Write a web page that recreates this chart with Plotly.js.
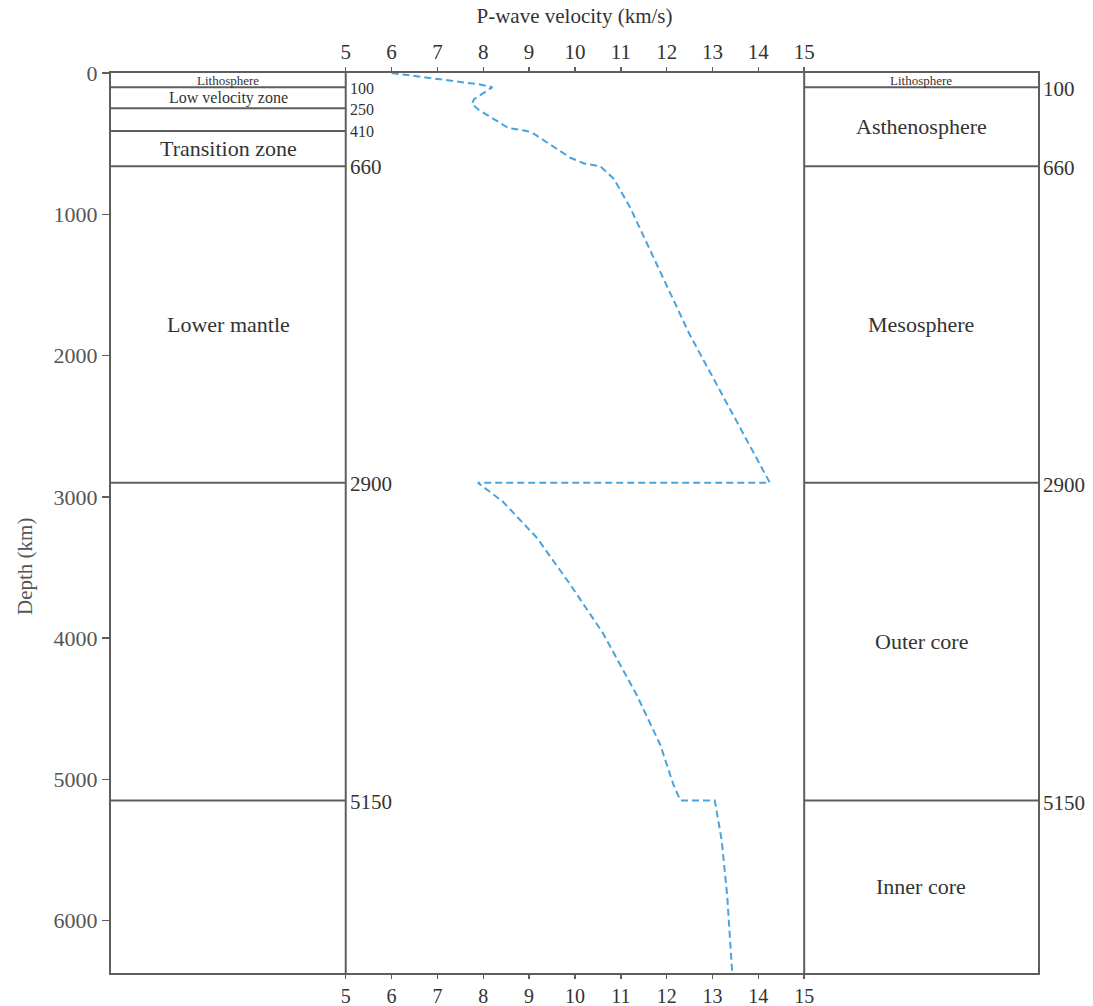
<!DOCTYPE html>
<html>
<head>
<meta charset="utf-8">
<script src="https://cdn.plot.ly/plotly-3.0.1.min.js"></script>
<style>html,body{margin:0;padding:0;background:#fff;}#chart{width:1093px;height:1006px;}</style>
</head>
<body>
<div id="chart"></div>
<script>
// ---- data ----
const velocityKmS = [6.0, 7.9, 8.2, 7.8, 7.75, 7.9, 8.55, 8.95, 9.1, 9.9, 10.2, 10.55, 10.85, 11.2, 12.5, 14.25,
                     7.88, 8.43, 9.17, 9.89, 10.61, 11.35, 11.86, 12.15, 12.3, 13.05, 13.2, 13.32, 13.43];
const depthKm     = [0, 80, 100, 185, 220, 260, 390, 410, 430, 600, 640, 660, 750, 950, 1850, 2900,
                     2900, 3035, 3290, 3618, 3965, 4405, 4755, 5040, 5150, 5150, 5430, 5820, 6371];

const leftBoundaries = [0, 100, 250, 410, 660, 2900, 5150, 6371];
const leftZones      = ['Lithosphere', 'Low velocity zone', '', 'Transition zone', 'Lower mantle', '', ''];
const leftLabels     = ['100', '250', '410', '660', '2900', '5150'];

const rightBoundaries = [0, 100, 660, 2900, 5150, 6371];
const rightZones      = ['Lithosphere', 'Asthenosphere', 'Mesosphere', 'Outer core', 'Inner core'];
const rightLabels     = ['100', '660', '2900', '5150'];

const velocityTicks = [5, 6, 7, 8, 9, 10, 11, 12, 13, 14, 15];
const depthTicks    = [0, 1000, 2000, 3000, 4000, 5000, 6000];

// ---- layout constants ----
const XMIN = -0.12, XMAX = 20.1, XL = 5, XR = 15;
const FONT = 'Liberation Serif, Times New Roman, serif';
const LINE = '#5e5e5e';
const TXT = '#333333';
const GREY = '#555555';
const FS = 22;
const maxDepth = leftBoundaries[leftBoundaries.length - 1];

function zoneFont(thickness) {
  if (thickness < 120) return 13;
  if (thickness < 200) return 16;
  return FS;
}
function boundaryFont(inner, i) {
  // spacing between neighbouring boundary labels
  const prev = i > 0 ? inner[i] - inner[i - 1] : Infinity;
  const next = i < inner.length - 1 ? inner[i + 1] - inner[i] : Infinity;
  return Math.min(prev, next) < 200 ? 16 : FS - 1;
}

const shapes = [];
const annotations = [];

// vertical separators
[XL, XR].forEach(xv => shapes.push({type: 'line', xref: 'x', yref: 'y', x0: xv, x1: xv, y0: 0, y1: maxDepth,
  line: {color: LINE, width: 2}}));

// left panel boundaries + labels
const leftInner = leftBoundaries.slice(1, -1);
leftInner.forEach((d, i) => {
  shapes.push({type: 'line', xref: 'x', yref: 'y', x0: XMIN, x1: XL, y0: d, y1: d, line: {color: LINE, width: 2}});
  annotations.push({xref: 'x', yref: 'y', x: XL, y: d, text: leftLabels[i], showarrow: false,
    xanchor: 'left', yanchor: 'middle', xshift: 2, yshift: -1,
    font: {family: FONT, size: boundaryFont(leftInner, i), color: TXT}});
});
leftZones.forEach((name, i) => {
  if (!name) return;
  annotations.push({xref: 'x', yref: 'y', x: (XMIN + XL) / 2, y: (leftBoundaries[i] + leftBoundaries[i + 1]) / 2,
    text: name, showarrow: false, xanchor: 'center', yanchor: 'middle',
    font: {family: FONT, size: zoneFont(leftBoundaries[i + 1] - leftBoundaries[i]), color: TXT}});
});

// right panel boundaries + labels
const rightInner = rightBoundaries.slice(1, -1);
rightInner.forEach((d, i) => {
  shapes.push({type: 'line', xref: 'x', yref: 'y', x0: XR, x1: XMAX, y0: d, y1: d, line: {color: LINE, width: 2}});
  annotations.push({xref: 'x', yref: 'y', x: XMAX, y: d, text: rightLabels[i], showarrow: false,
    xanchor: 'left', yanchor: 'middle', xshift: 3, yshift: -2,
    font: {family: FONT, size: boundaryFont(rightInner, i), color: TXT}});
});
rightZones.forEach((name, i) => {
  annotations.push({xref: 'x', yref: 'y', x: (XR + XMAX) / 2, y: (rightBoundaries[i] + rightBoundaries[i + 1]) / 2,
    text: name, showarrow: false, xanchor: 'center', yanchor: 'middle',
    font: {family: FONT, size: zoneFont(rightBoundaries[i + 1] - rightBoundaries[i]), color: TXT}});
});

// y-axis title (placed as rotated annotation to match the reference position)
annotations.push({xref: 'paper', yref: 'paper', x: -0.093, y: 0.452, text: 'Depth (km)', textangle: -90,
  showarrow: false, xanchor: 'center', yanchor: 'middle', font: {family: FONT, size: FS - 1, color: GREY}});

const trace = {
  x: velocityKmS, y: depthKm, type: 'scatter', mode: 'lines', xaxis: 'x', yaxis: 'y',
  line: {color: '#4aa3de', width: 2, dash: '7px,4px'}, hoverinfo: 'skip', showlegend: false
};
const topTrace = {x: [XMIN], y: [0], xaxis: 'x2', yaxis: 'y', mode: 'markers', marker: {opacity: 0}, showlegend: false, hoverinfo: 'skip'};

const axisCommon = {
  range: [XMIN, XMAX], tickvals: velocityTicks, ticktext: velocityTicks.map(String),
  ticks: 'outside', ticklen: 5, tickwidth: 1.5, tickcolor: LINE,
  showgrid: false, zeroline: false, tickfont: {family: FONT, size: FS - 1, color: TXT}, fixedrange: true
};

const layout = {
  width: 1093, height: 1006,
  margin: {l: 111, r: 55, t: 73, b: 33},
  paper_bgcolor: '#fff', plot_bgcolor: '#fff',
  font: {family: FONT, color: TXT},
  xaxis: Object.assign({}, axisCommon, {side: 'bottom', showline: true, linecolor: LINE, linewidth: 2, mirror: true,
    automargin: false, ticklen: 4, tickfont: {family: FONT, size: 20, color: TXT}}),
  xaxis2: Object.assign({}, axisCommon, {side: 'top', overlaying: 'x', showline: false, automargin: false,
    title: {text: 'P-wave velocity (km/s)', font: {family: FONT, size: FS - 1, color: TXT}, standoff: 10}}),
  yaxis: {
    range: [maxDepth, 0], tickvals: depthTicks, ticktext: depthTicks.map(String),
    ticks: 'outside', ticklen: 7, tickwidth: 1.5, tickcolor: LINE,
    showline: true, linecolor: LINE, linewidth: 2, mirror: true,
    showgrid: false, zeroline: false, automargin: false,
    tickfont: {family: FONT, size: FS, color: GREY}
  },
  shapes: shapes,
  annotations: annotations,
  showlegend: false
};

Plotly.newPlot('chart', [trace, topTrace], layout, {staticPlot: true, displayModeBar: false});
</script>
</body>
</html>
